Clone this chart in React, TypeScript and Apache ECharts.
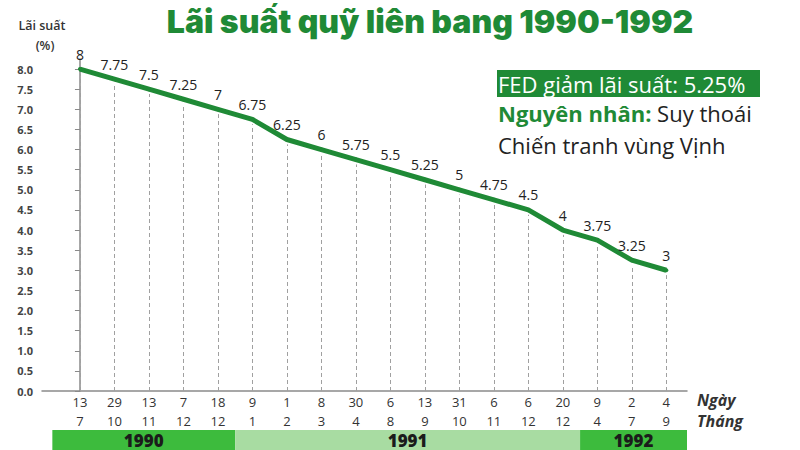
import React, { useEffect, useRef } from "react";
import * as echarts from "echarts";

const days = ["13", "29", "13", "7", "18", "9", "1", "8", "30", "6", "13", "31", "6", "6", "20", "9", "2", "4"];
const months = ["7", "10", "11", "12", "12", "1", "2", "3", "4", "8", "9", "10", "11", "12", "12", "4", "7", "9"];
const rates = [8, 7.75, 7.5, 7.25, 7, 6.75, 6.25, 6, 5.75, 5.5, 5.25, 5, 4.75, 4.5, 4, 3.75, 3.25, 3];
const yTicks = [0, 0.5, 1, 1.5, 2, 2.5, 3, 3.5, 4, 4.5, 5, 5.5, 6, 6.5, 7, 7.5, 8];
const years = ["1990", "1991", "1992"];
const yearStart = [-0.8, 4.5, 14.5];
const yearEnd = [4.5, 14.5, 17.6];
const yearColors = ["#3dbb3d", "#a8dca2", "#3dbb3d"];

const GREEN = "#1f8a36";
const FONT = "'Open Sans', 'Noto Sans', sans-serif";

export default function App() {
  const ref = useRef<HTMLDivElement>(null);
  useEffect(() => {
    if (!ref.current) return;
    const chart = echarts.init(ref.current, null, { renderer: "svg" });
    const idx = rates.map((_, i) => i);
    const option: any = {
      animation: false,
      textStyle: { fontFamily: FONT },
      grid: [
        { left: 42, right: 113, top: 59, bottom: 59 },
        { left: 42, right: 113, top: 430, bottom: 0 },
      ],
      xAxis: [
        {
          type: "value",
          gridIndex: 0,
          min: -1.1,
          max: 17.6,
          splitLine: { show: false },
          axisLine: { show: true, lineStyle: { color: "#8a8a8a", width: 1.5 } },
          axisTick: { show: false },
          axisLabel: {
            customValues: idx,
            formatter: (v: number) => `${days[Math.round(v)]}\n${months[Math.round(v)]}`,
            color: "#333",
            fontSize: 13,
            lineHeight: 19,
            margin: 1,
            fontFamily: FONT,
          },
        },
        {
          type: "value",
          gridIndex: 1,
          min: -1.1,
          max: 17.6,
          show: false,
        },
      ],
      yAxis: [
        {
          type: "value",
          gridIndex: 0,
          min: 0,
          max: 8.25,
          splitLine: { show: false },
          axisLine: { show: true, lineStyle: { color: "#8a8a8a", width: 1.5 } },
          axisTick: { show: true, customValues: yTicks, length: 5, inside: false, lineStyle: { color: "#8a8a8a" } },
          axisLabel: {
            customValues: yTicks,
            formatter: (v: number) => v.toFixed(1),
            color: "#444",
            fontSize: 11,
            fontWeight: "bold",
            margin: 9,
            fontFamily: FONT,
          },
        },
        { type: "value", gridIndex: 1, min: 0, max: 1, show: false },
      ],
      series: [
        {
          type: "line",
          xAxisIndex: 0,
          yAxisIndex: 0,
          data: rates.map((v, i) => [i, v]),
          symbol: "circle",
          symbolSize: 4,
          showSymbol: true,
          itemStyle: { color: GREEN },
          lineStyle: { color: GREEN, width: 5 },
          label: {
            show: true,
            position: "top",
            distance: 6,
            color: "#222",
            fontSize: 14,
            fontFamily: FONT,
            formatter: (p: any) => String(p.value[1]),
          },
          markLine: {
            silent: true,
            symbol: "none",
            label: { show: false },
            lineStyle: { color: "#a0a0a0", type: [4, 3], width: 1 },
            data: rates.map((v, i) => [{ coord: [i, 0] }, { coord: [i, v - 0.12] }]),
          },
          z: 3,
        },
        {
          type: "line",
          xAxisIndex: 1,
          yAxisIndex: 1,
          data: [],
          markArea: {
            silent: true,
            data: years.map((y, i) => [
              {
                name: y,
                xAxis: yearStart[i],
                yAxis: 0,
                itemStyle: { color: yearColors[i] },
                label: {
                  show: true,
                  position: "inside",
                  color: "#1b1b1b",
                  fontSize: 17,
                  lineHeight: 18,
                  fontWeight: 800,
                  fontFamily: FONT,
                },
              },
              { xAxis: yearEnd[i], yAxis: 1 },
            ]),
          },
        },
      ],
      graphic: [
        {
          type: "text",
          x: 430,
          y: 21,
          style: {
            text: "Lãi suất quỹ liên bang 1990-1992",
            fill: GREEN,
            font: `900 32px Inter, ${FONT}`,
            align: "center",
            verticalAlign: "middle",
          },
        },
        {
          type: "text",
          x: 42,
          y: 25,
          style: {
            text: "Lãi suất",
            fill: "#333",
            font: `600 12.5px ${FONT}`,
            align: "center",
            verticalAlign: "middle",
          },
        },
        {
          type: "text",
          x: 45,
          y: 45,
          style: {
            text: "(%)",
            fill: "#333",
            font: `600 12.5px ${FONT}`,
            align: "center",
            verticalAlign: "middle",
          },
        },
        {
          type: "rect",
          shape: { x: 497, y: 70, width: 263, height: 27 },
          style: { fill: GREEN },
        },
        {
          type: "text",
          x: 498,
          y: 84,
          style: {
            text: "FED giảm lãi suất: 5.25%",
            fill: "#fff",
            font: `22px ${FONT}`,
            verticalAlign: "middle",
          },
        },
        {
          type: "text",
          x: 498,
          y: 113,
          style: {
            text: "{g|Nguyên nhân:}{d| Suy thoái}",
            verticalAlign: "middle",
            rich: {
              g: { fill: GREEN, fontWeight: "bold", fontSize: 22, fontFamily: FONT },
              d: { fill: "#222", fontSize: 22, fontFamily: FONT },
            },
          },
        },
        {
          type: "text",
          x: 498,
          y: 145,
          style: {
            text: "Chiến tranh vùng Vịnh",
            fill: "#222",
            font: `22px ${FONT}`,
            verticalAlign: "middle",
          },
        },
        {
          type: "text",
          x: 697,
          y: 400,
          style: {
            text: "Ngày",
            fill: "#333",
            font: `italic bold 16px ${FONT}`,
            verticalAlign: "middle",
          },
        },
        {
          type: "text",
          x: 697,
          y: 421,
          style: {
            text: "Tháng",
            fill: "#333",
            font: `italic bold 16px ${FONT}`,
            verticalAlign: "middle",
          },
        },
      ],
    };
    chart.setOption(option);
    return () => chart.dispose();
  }, []);
  return <div ref={ref} style={{ width: 800, height: 450, position: "absolute", left: 0, top: 0 }} />;
}
